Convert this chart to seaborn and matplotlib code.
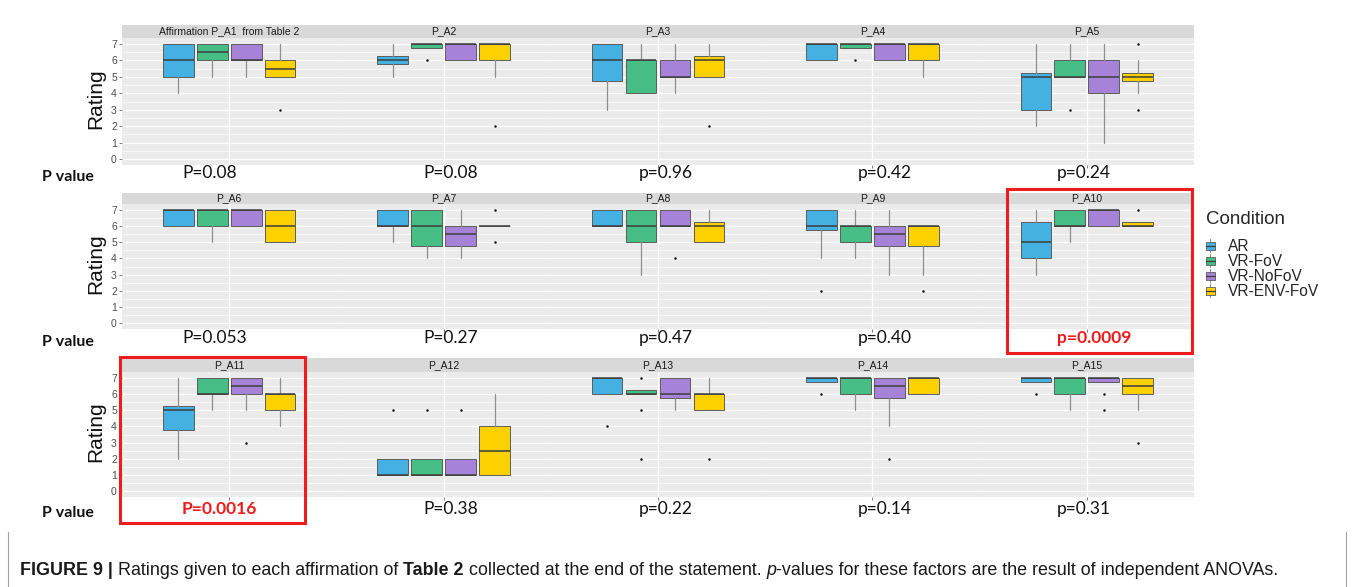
import numpy as np
import pandas as pd
import matplotlib
matplotlib.use("Agg")
import matplotlib.pyplot as plt
import seaborn as sns
from matplotlib.patches import Rectangle, Patch
from matplotlib.lines import Line2D
from matplotlib.legend_handler import HandlerBase

# ---------------------------------------------------------------- data
conditions = ["AR", "VR-FoV", "VR-NoFoV", "VR-ENV-FoV"]
palette = ["#45B1E3", "#46BE86", "#A683D8", "#FDD000"]
affirmations = [f"P_A{i}" for i in range(1, 16)]
strip_labels = ["Affirmation P_A1  from Table 2"] + affirmations[1:]
p_labels = ["P=0.08", "P=0.08", "p=0.96", "p=0.42", "p=0.24",
            "P=0.053", "P=0.27", "p=0.47", "p=0.40", "p=0.0009",
            "P=0.0016", "P=0.38", "p=0.22", "p=0.14", "p=0.31"]
significant = ["P_A10", "P_A11"]

# box summaries, one row per affirmation, columns follow `conditions`
q1 = [[5, 6, 6, 5], [5.75, 6.75, 6, 6], [4.75, 4, 5, 5], [6, 6.75, 6, 6],
      [3, 5, 4, 4.75], [6, 6, 6, 5], [6, 4.75, 4.75, 6], [6, 5, 6, 5],
      [5.75, 5, 4.75, 4.75], [4, 6, 6, 6], [3.75, 6, 6, 5], [1, 1, 1, 1],
      [6, 6, 5.75, 5], [6.75, 6, 5.75, 6], [6.75, 6, 6.75, 6]]
median = [[6, 6.5, 6, 5.5], [6, 7, 7, 7], [6, 6, 5, 6], [7, 7, 7, 7],
          [5, 5, 5, 5], [7, 7, 7, 6], [6, 6, 5.5, 6], [6, 6, 6, 6],
          [6, 6, 5.5, 6], [5, 6, 7, 6], [5, 6, 6.5, 6], [1, 1, 1, 2.5],
          [7, 6, 6, 6], [7, 7, 6.5, 7], [7, 7, 7, 6.5]]
q3 = [[7, 7, 7, 6], [6.25, 7, 7, 7], [7, 6, 6, 6.25], [7, 7, 7, 7],
      [5.25, 6, 6, 5.25], [7, 7, 7, 7], [7, 7, 6, 6], [7, 7, 7, 6.25],
      [7, 6, 6, 6], [6.25, 7, 7, 6.25], [5.25, 7, 7, 6], [2, 2, 2, 4],
      [7, 6.25, 7, 6], [7, 7, 7, 7], [7, 7, 7, 7]]
whisker_low = [[4, 5, 5, 5], [5, 6.75, 6, 5], [3, 4, 4, 5], [6, 6.75, 6, 5],
               [2, 5, 1, 4], [6, 5, 6, 5], [5, 4, 4, 6], [6, 3, 6, 5],
               [4, 4, 3, 3], [3, 5, 6, 6], [2, 5, 5, 4], [1, 1, 1, 1],
               [6, 6, 5, 5], [6.75, 5, 4, 6], [6.75, 5, 6.75, 5]]
whisker_high = [[7, 7, 7, 7], [7, 7, 7, 7], [7, 7, 7, 7], [7, 7, 7, 7],
                [7, 7, 7, 6], [7, 7, 7, 7], [7, 7, 7, 6], [7, 7, 7, 7],
                [7, 7, 7, 6], [7, 7, 7, 6.25], [7, 7, 7, 7], [2, 2, 2, 6],
                [7, 6.25, 7, 7], [7, 7, 7, 7], [7, 7, 7, 7]]
outliers = [[[], [], [], [3]], [[], [6], [], [2]], [[], [], [], [2]],
            [[], [6], [], []], [[], [3], [], [7, 3]], [[], [], [], []],
            [[], [], [], [7, 5]], [[], [], [4], []], [[2], [], [], [2]],
            [[], [], [], [7]], [[], [], [3], []], [[5], [5], [5], []],
            [[4], [7, 5, 2], [], [2]], [[6], [], [2], []], [[6], [], [6, 5], [3]]]

rows = []
for i, aff in enumerate(affirmations):
    for j, cond in enumerate(conditions):
        rows.append(dict(Affirmation=aff, Condition=cond, q1=q1[i][j],
                         med=median[i][j], q3=q3[i][j], lo=whisker_low[i][j],
                         hi=whisker_high[i][j], out=outliers[i][j]))
df = pd.DataFrame(rows)

# ---------------------------------------------------------------- style
W, H, DPI = 1354, 587, 100
sns.set_theme(style="white")
plt.rcParams["font.family"] = ["Liberation Sans", "DejaVu Sans"]

EDGE, WHISK, MED = "#5c5c5c", "#8f8f8f", "#3d3d3d"
offsets = (np.arange(len(conditions)) - 1.5) * 0.19
color_of = dict(zip(conditions, palette))


def draw_boxes(data, **kws):
    ax = plt.gca()
    data = data.set_index("Condition").loc[conditions]
    stats = [dict(med=r.med, q1=r.q1, q3=r.q3, whislo=r.lo, whishi=r.hi,
                  fliers=list(r.out)) for r in data.itertuples()]
    bp = ax.bxp(stats, positions=offsets, widths=0.172, patch_artist=True,
                showcaps=False, manage_ticks=False,
                boxprops=dict(edgecolor=EDGE, linewidth=0.7),
                whiskerprops=dict(color=WHISK, linewidth=0.9),
                medianprops=dict(color=MED, linewidth=1.1),
                flierprops=dict(marker="o", markersize=1.8,
                                markerfacecolor="#111111",
                                markeredgecolor="none"))
    for patch, cond in zip(bp["boxes"], data.index):
        patch.set_facecolor(color_of[cond])


class BoxKey(HandlerBase):
    """Legend key drawn as a miniature box with whisker and median."""

    def create_artists(self, legend, orig_handle, xdescent, ydescent,
                       width, height, fontsize, trans):
        x0, y0 = -xdescent, -ydescent
        whisk = Line2D([x0 + width / 2] * 2, [y0 - 0.15 * height, y0 + 1.15 * height],
                       color=WHISK, linewidth=0.8, transform=trans)
        rect = Rectangle((x0, y0 + 0.1 * height), width, 0.8 * height,
                         facecolor=orig_handle.get_facecolor(),
                         edgecolor=EDGE, linewidth=0.6, transform=trans)
        med = Line2D([x0, x0 + width], [y0 + 0.5 * height] * 2,
                     color=MED, linewidth=0.9, transform=trans)
        return [whisk, rect, med]


g = sns.FacetGrid(df, col="Affirmation", col_wrap=5, col_order=affirmations,
                  sharex=True, sharey=True, height=H / DPI / 3,
                  aspect=(W / 5) / (H / 3))
g.map_dataframe(draw_boxes)
fig = g.figure
fig.set_size_inches(W / DPI, H / DPI)
fig.set_dpi(DPI)
fig.patch.set_facecolor("white")

# panel geometry (pixels)
panel_left, panel_w = 122, 214.4
strip_top = [25, 193, 358]
axes_top = [38, 204, 372]
axes_bottom = [165, 329, 497]
p_text_y = [173, 338, 509]
p_text_x = [182, 423, 639, 858, 1057]

for k, ax in enumerate(g.axes.flat):
    r, c = divmod(k, 5)
    left = panel_left + c * panel_w
    ah = axes_bottom[r] - axes_top[r]
    ax.set_position([left / W, 1 - axes_bottom[r] / H, panel_w / W, ah / H])
    ax.set_title("")
    ax.set_xlabel("")
    ax.set_ylabel("")
    ax.set_facecolor("#EBEBEB")
    ax.set_xlim(-0.6, 0.6)
    ax.set_ylim(-0.35, 7.35)
    ax.set_yticks(range(8))
    ax.set_yticks(np.arange(0.5, 7.5, 1.0), minor=True)
    ax.set_xticks([0])
    ax.set_xticklabels([])
    ax.grid(which="major", axis="both", color="white", linewidth=0.9)
    ax.grid(which="minor", axis="y", color="white", linewidth=0.45)
    ax.set_axisbelow(True)
    for sp in ax.spines.values():
        sp.set_visible(False)
    ax.tick_params(axis="x", which="both", length=2.2, width=0.6,
                   color="#666666", bottom=True, labelbottom=False)
    ax.tick_params(axis="y", which="minor", length=0)
    if c == 0:
        ax.tick_params(axis="y", which="major", left=True, labelleft=True,
                       length=2.2, width=0.6, color="#666666", pad=1.5,
                       labelsize=7.5, labelcolor="#4D4D4D")
        fig.text(96 / W, 1 - (axes_top[r] + ah / 2 - 3) / H, "Rating",
                 rotation=90, ha="center", va="center", fontsize=15,
                 color="#111111")
        fig.text(42 / W, 1 - (p_text_y[r] + 4) / H, "P value",
                 ha="left", va="center", fontsize=11.5, fontweight="bold",
                 family=["Lato", "DejaVu Sans"], color="#111111")
    else:
        ax.tick_params(axis="y", which="major", left=False, labelleft=False)

    # strip header
    sh = (axes_top[r] - strip_top[r]) / ah
    ax.add_patch(Rectangle((0, 1), 1, sh, transform=ax.transAxes,
                           facecolor="#D9D9D9", edgecolor="none",
                           clip_on=False, zorder=3))
    ax.text(0.5, 1 + sh / 2, strip_labels[k], transform=ax.transAxes,
            ha="center", va="center", fontsize=7.5, color="#1A1A1A",
            zorder=4)

    # ANOVA p-value below each panel
    aff = affirmations[k]
    sig = aff in significant
    fig.text(p_text_x[c] / W, 1 - p_text_y[r] / H, p_labels[k],
             ha="left", va="center", fontsize=12.5,
             family=["Lato", "DejaVu Sans"],
             fontweight="bold" if sig else "normal",
             color="#F01A1A" if sig else "#111111")

# highlight frames around the significant affirmations
for (x0, y0, x1, y1) in [(1007, 189, 1192, 353), (120, 357, 305, 523)]:
    fig.add_artist(Rectangle((x0 / W, 1 - y1 / H), (x1 - x0) / W,
                             (y1 - y0) / H, transform=fig.transFigure,
                             fill=False, edgecolor="#EE1C1C", linewidth=2.2))

# legend
handles = [Patch(facecolor=col) for col in palette]
leg = fig.legend(handles, conditions, loc="upper left",
                 bbox_to_anchor=(1206 / W, 1 - 211 / H),
                 handler_map={Patch: BoxKey()},
                 frameon=False, fontsize=11.2, title="Condition",
                 title_fontsize=13.5, handlelength=0.55, handleheight=0.6,
                 handletextpad=0.85, labelspacing=0.0, borderpad=0,
                 borderaxespad=0, alignment="left")
leg._legend_box.sep = 8

# side rules of the caption box
for xp in (8, 1346):
    fig.add_artist(Line2D([xp / W, xp / W], [0, 1 - 532 / H],
                          transform=fig.transFigure, color="#A0A0A0",
                          linewidth=0.8))

# caption with mixed weights
renderer = fig.canvas.get_renderer()
segments = [("FIGURE 9 |", "bold", "normal"),
            (" Ratings given to each affirmation of ", "normal", "normal"),
            ("Table 2", "bold", "normal"),
            (" collected at the end of the statement. ", "normal", "normal"),
            ("p", "normal", "italic"),
            ("-values for these factors are the result of independent ANOVAs.",
             "normal", "normal")]
x = 20
for s, wgt, sty in segments:
    t = fig.text(x / W, 1 - 575 / H, s, ha="left", va="baseline",
                 fontsize=12.9, fontweight=wgt, fontstyle=sty,
                 color="#1A1A1A")
    bb = t.get_window_extent(renderer)
    x = bb.x1

fig.savefig("out.png", dpi=DPI)
